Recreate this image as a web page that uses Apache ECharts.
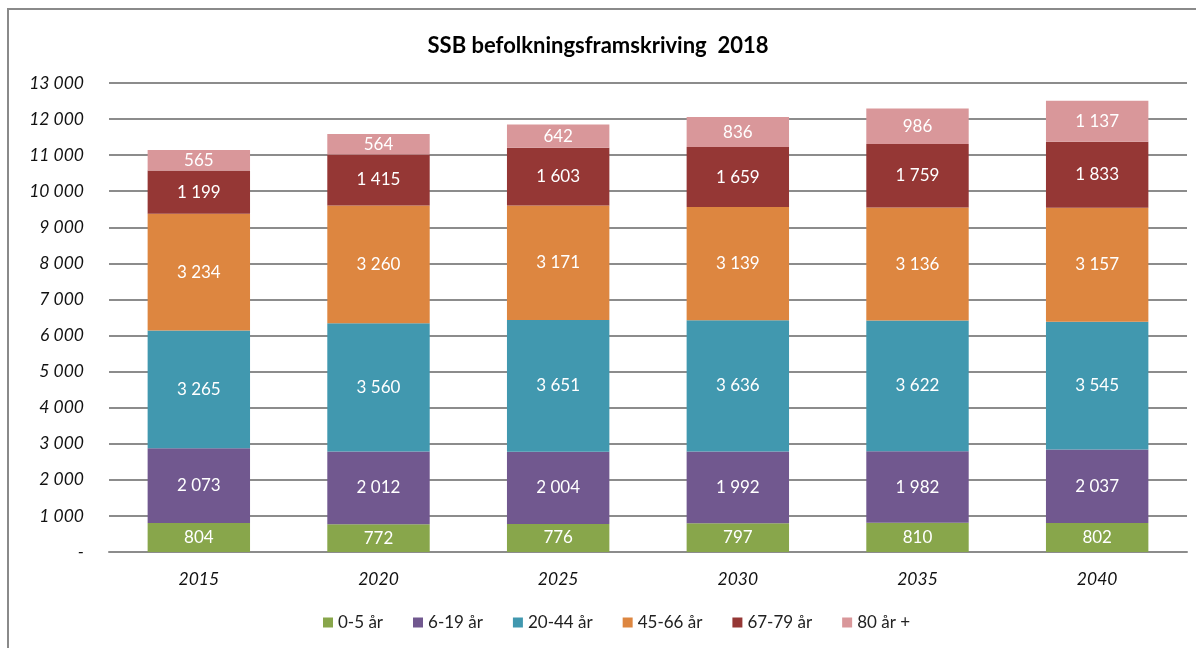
<!DOCTYPE html>
<html>
<head>
<meta charset="utf-8">
<script src="https://cdn.jsdelivr.net/npm/echarts@6/dist/echarts.min.js"></script>
<style>
  html, body { margin: 0; padding: 0; background: #fff; }
  #chart { width: 1196px; height: 648px; }
</style>
</head>
<body>
<div id="chart"></div>
<script>
// befolkningsframskriving per aldersgruppe
const years = ['2015', '2020', '2025', '2030', '2035', '2040']
const groups = ['0-5 år', '6-19 år', '20-44 år', '45-66 år', '67-79 år', '80 år +']
const age0_5 = [804, 772, 776, 797, 810, 802]
const age6_19 = [2073, 2012, 2004, 1992, 1982, 2037]
const age20_44 = [3265, 3560, 3651, 3636, 3622, 3545]
const age45_66 = [3234, 3260, 3171, 3139, 3136, 3157]
const age67_79 = [1199, 1415, 1603, 1659, 1759, 1833]
const age80 = [565, 564, 642, 836, 986, 1137]
const colors = ['#88a64b', '#71588f', '#4198af', '#dd8640', '#953735', '#d9979a']

const font = 'Lato, "Open Sans", sans-serif'

function fmt(v) {
  if (v === 0) return '-'
  return String(v).replace(/\B(?=(\d{3})+(?!\d))/g, ' ')
}

const seriesData = [age0_5, age6_19, age20_44, age45_66, age67_79, age80]

const chart = echarts.init(document.getElementById('chart'))
const option = {
  animation: false,
  color: colors,
  title: {
    text: 'SSB befolkningsframskriving  2018',
    left: 'center',
    top: 30,
    textStyle: { fontFamily: font, fontSize: 22, fontWeight: 'bold', color: '#000' }
  },
  graphic: [{
    type: 'rect',
    shape: { x: 8, y: 9, width: 1240, height: 700 },
    style: { fill: 'none', stroke: '#8a8a8a', lineWidth: 2 },
    silent: true
  }],
  legend: {
    bottom: 12,
    left: 318,
    itemWidth: 10,
    itemHeight: 10,
    itemGap: 30,
    icon: 'rect',
    textStyle: { fontFamily: font, fontSize: 17, color: '#222' },
    data: groups
  },
  grid: { left: 109, right: 9, top: 83, bottom: 96 },
  xAxis: {
    type: 'category',
    data: years,
    axisTick: { show: false },
    axisLine: { lineStyle: { color: '#8c8c8c', width: 2 } },
    axisLabel: { fontFamily: font, fontSize: 17.5, fontStyle: 'italic', color: '#111', margin: 18 }
  },
  yAxis: {
    type: 'value',
    min: 0,
    max: 13000,
    interval: 1000,
    axisLine: { show: false },
    axisTick: { show: false },
    splitLine: { lineStyle: { color: '#8c8c8c', width: 2 } },
    axisLabel: {
      fontFamily: font, fontSize: 17.5, fontStyle: 'italic', color: '#111', margin: 25,
      formatter: fmt
    }
  },
  series: groups.map((name, i) => ({
    name: name,
    type: 'bar',
    stack: 'total',
    barWidth: '57%',
    data: seriesData[i],
    label: {
      show: true,
      position: 'inside',
      color: '#fff',
      fontFamily: font,
      fontSize: 17,
      formatter: p => fmt(p.value)
    }
  }))
}
chart.setOption(option)
</script>
</body>
</html>
